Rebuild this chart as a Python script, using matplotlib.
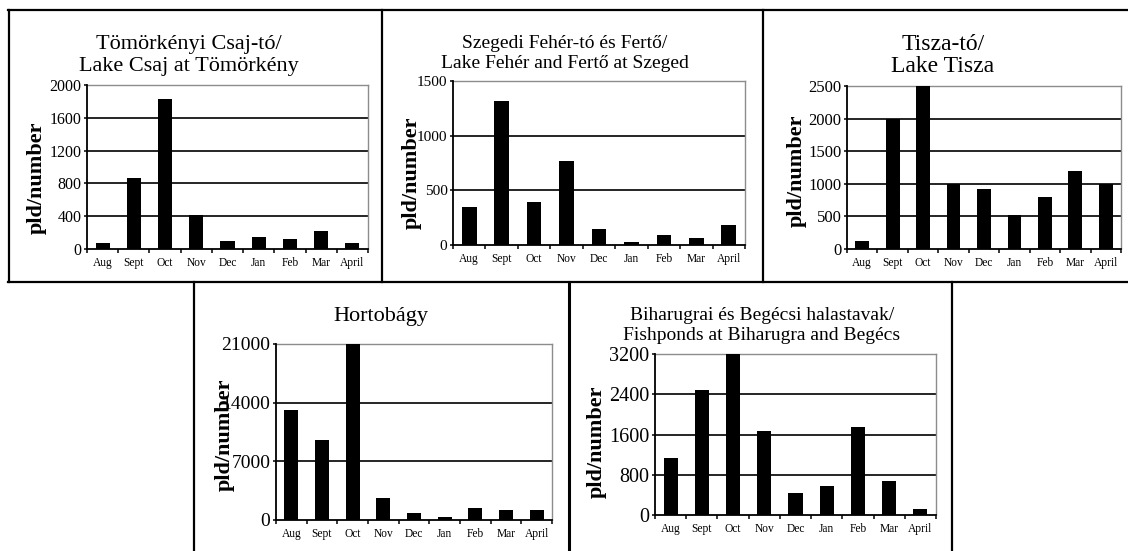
import matplotlib
matplotlib.use("Agg")
import matplotlib.pyplot as plt
from matplotlib.lines import Line2D
import numpy as np

plt.rcParams['font.family'] = ['Liberation Serif', 'DejaVu Serif']

months = ["Aug", "Sept", "Oct", "Nov", "Dec", "Jan", "Feb", "Mar", "April"]

# Counts per month at each site (individuals)
tomorkeny = [75, 860, 1830, 410, 100, 150, 125, 220, 75]
szeged = [350, 1320, 390, 770, 150, 25, 95, 60, 185]
tisza = [130, 2000, 2500, 1000, 920, 520, 800, 1200, 1000]
hortobagy = [13150, 9550, 21000, 2670, 800, 320, 1480, 1240, 1240]
biharugra = [1140, 2490, 3200, 1660, 430, 585, 1740, 670, 110]

# Y-axis ticks per site
ticks_tomorkeny = [0, 400, 800, 1200, 1600, 2000]
ticks_szeged = [0, 500, 1000, 1500]
ticks_tisza = [0, 500, 1000, 1500, 2000, 2500]
ticks_hortobagy = [0, 7000, 14000, 21000]
ticks_biharugra = [0, 800, 1600, 2400, 3200]

titles_tomorkeny = ["Tömörkényi Csaj-tó/", "Lake Csaj at Tömörkény"]
titles_szeged = ["Szegedi Fehér-tó és Fertő/", "Lake Fehér and Fertő at Szeged"]
titles_tisza = ["Tisza-tó/", "Lake Tisza"]
titles_hortobagy = ["Hortobágy"]
titles_biharugra = ["Biharugrai és Begécsi halastavak/", "Fishponds at Biharugra and Begécs"]

ylabel = "pld/number"

W, H = 1128, 551
fig = plt.figure(figsize=(W / 100, H / 100), dpi=100)


def fx(px):
    return px / W


def fy(py):
    return 1 - py / H


# panel layout in pixels: axes box (left, right, top, bottom), title lines
# (x, y list, size), y-label centre, tick-label size, black top line flag
panels = [
    dict(vals=tomorkeny, ticks=ticks_tomorkeny, titles=titles_tomorkeny,
         box=(87, 368, 85, 249), tx=189, ty=[44, 67], tsize=16,
         lab=(37, 178), ysize=11.5, top_black=False),
    dict(vals=szeged, ticks=ticks_szeged, titles=titles_szeged,
         box=(453, 745, 81, 245), tx=565, ty=[44, 64], tsize=14,
         lab=(412, 173), ysize=11, top_black=False),
    dict(vals=tisza, ticks=ticks_tisza, titles=titles_tisza,
         box=(847, 1121, 86, 249), tx=943, ty=[44, 66], tsize=17,
         lab=(797, 171), ysize=12, top_black=False),
    dict(vals=hortobagy, ticks=ticks_hortobagy, titles=titles_hortobagy,
         box=(276, 552, 344, 520), tx=381, ty=[316], tsize=16,
         lab=(225, 435), ysize=14, top_black=True),
    dict(vals=biharugra, ticks=ticks_biharugra, titles=titles_biharugra,
         box=(655, 936, 354, 515), tx=762, ty=[315, 336], tsize=14,
         lab=(597, 442), ysize=14.5, top_black=True),
]

x = np.arange(len(months))

for p in panels:
    l, r, t, b = p["box"]
    ax = fig.add_axes([fx(l), fy(b), (r - l) / W, (b - t) / H])
    ax.bar(x, p["vals"], width=0.45, color="black", zorder=3)
    ax.set_xlim(-0.5, len(months) - 0.5)
    ax.set_ylim(p["ticks"][0], p["ticks"][-1])
    ax.set_yticks(p["ticks"])
    ax.set_yticklabels([str(v) for v in p["ticks"]], fontsize=p["ysize"])
    ax.set_xticks(x)
    ax.set_xticklabels(months, fontsize=8.3)
    ax.set_xticks(np.arange(-0.5, len(months)), minor=True)
    ax.tick_params(axis="x", which="major", length=0, pad=6)
    ax.tick_params(axis="x", which="minor", length=3, width=1.1, direction="out")
    ax.tick_params(axis="y", length=2.5, width=1.1, pad=1.5, direction="out")
    inner = p["ticks"][1:] if p["top_black"] else p["ticks"][1:-1]
    for v in inner:
        ax.axhline(v, color="black", lw=1.2, zorder=2)
    for side in ("top", "right"):
        ax.spines[side].set_color("#8c8c8c")
        ax.spines[side].set_linewidth(1.0)
    for side in ("left", "bottom"):
        ax.spines[side].set_color("black")
        ax.spines[side].set_linewidth(1.3)
        ax.spines[side].set_zorder(4)
    ax.set_facecolor("white")

    for line, yy in zip(p["titles"], p["ty"]):
        fig.text(fx(p["tx"]), fy(yy), line, ha="center", va="center",
                 fontsize=p["tsize"])
    fig.text(fx(p["lab"][0]), fy(p["lab"][1]), ylabel, rotation=90,
             ha="center", va="center", fontsize=16, fontweight="bold")

# table rules around the panels
rules = [
    ((8, 1128), (10, 10), 1.6),
    ((8, 1128), (282, 282), 1.6),
    ((9, 9), (10, 282), 1.6),
    ((382, 382), (10, 282), 1.6),
    ((763, 763), (10, 282), 1.6),
    ((194, 194), (282, 551), 1.6),
    ((569, 569), (282, 551), 2.2),
    ((952, 952), (282, 551), 1.6),
]
for (x0, x1), (y0, y1), lw in rules:
    fig.add_artist(Line2D([fx(x0), fx(x1)], [fy(y0), fy(y1)],
                          transform=fig.transFigure, color="black", lw=lw))

fig.savefig("out.png", dpi=100, facecolor="white")
